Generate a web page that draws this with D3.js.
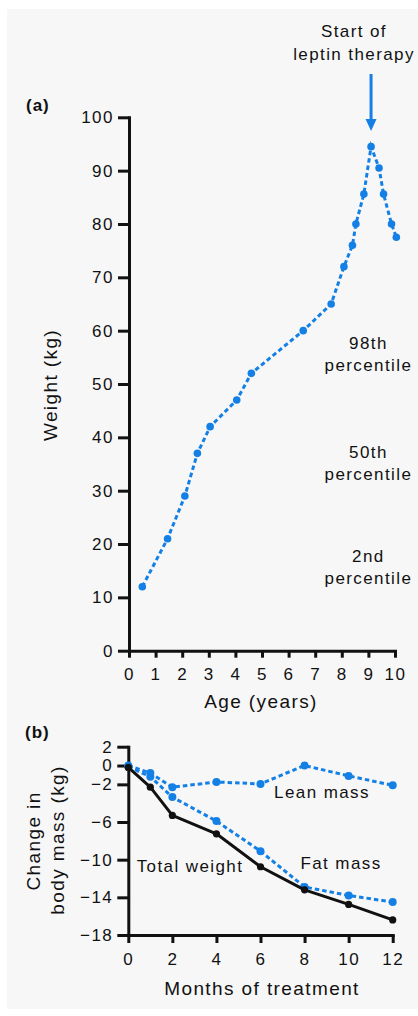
<!DOCTYPE html>
<html>
<head>
<meta charset="utf-8">
<script src="https://cdn.jsdelivr.net/npm/d3@7/dist/d3.min.js"></script>
<style>
  html, body { margin: 0; padding: 0; background: #ffffff; }
  svg { display: block; }
  text { font-family: "Liberation Sans", Arial, Helvetica, sans-serif; fill: #111111; }
</style>
</head>
<body>
<svg id="chart" width="418" height="1016"></svg>
<script>
// ---------- Data: panel (a) ----------
const ages    = [0.5, 1.45, 2.1, 2.57, 3.05, 4.05, 4.6, 6.55, 7.6, 8.08, 8.4, 8.53, 8.83, 9.1, 9.4, 9.57, 9.87, 10.05];
const weights = [12, 21, 29, 37, 42, 47, 52, 60, 65, 72, 76, 80, 85.6, 94.5, 90.5, 85.6, 80, 77.5];
const ageTicks = [0, 1, 2, 3, 4, 5, 6, 7, 8, 9, 10];
const weightTicks = [0, 10, 20, 30, 40, 50, 60, 70, 80, 90, 100];
const therapyStartAge = 9.1;
const percentileLabels = [
  { lines: ["98th", "percentile"], value: 56.6 },
  { lines: ["50th", "percentile"], value: 36.2 },
  { lines: ["2nd", "percentile"], value: 16.7 }
];

// ---------- Data: panel (b) ----------
const months = [0, 1, 2, 4, 6, 8, 10, 12];
const totalWeight = [-0.2, -2.3, -5.3, -7.25, -10.75, -13.2, -14.75, -16.4];
const fatMass     = [-0.1, -1.2, -3.35, -5.9, -9.1, -12.9, -13.8, -14.5];
const leanMass    = [0, -0.8, -2.3, -1.75, -1.95, 0, -1.1, -2.1];
const monthTicks = [0, 2, 4, 6, 8, 10, 12];
const changeTicks = [2, 0, -2, -6, -10, -14, -18];

// ---------- Styles ----------
const BLUE = "#1480e6";
const INK = "#111111";
const LS = "1.4px";

const svg = d3.select("#chart");
svg.append("rect").attr("x", 7).attr("y", 9).attr("width", 411).attr("height", 1000).attr("fill", "#f7f7f7");

function styleAxis(g) {
  g.selectAll("path.domain").attr("stroke", INK).attr("stroke-width", 3).attr("stroke-linecap", "square");
  g.selectAll(".tick line").attr("stroke", INK).attr("stroke-width", 3);
  g.selectAll(".tick text").attr("fill", INK).style("font-size", "17px")
    .style("font-family", '"Liberation Sans", Arial, sans-serif').style("letter-spacing", "1.5px");
}
const fmt = d => (d < 0 ? "\u2212" + Math.abs(d) : String(d));

function addText(x, y, str, opts = {}) {
  const t = svg.append("text").attr("x", x).attr("y", y).text(str)
    .attr("text-anchor", opts.anchor || "middle")
    .style("font-size", (opts.size || 17) + "px")
    .style("letter-spacing", opts.ls || LS);
  if (opts.weight) t.style("font-weight", opts.weight);
  if (opts.rotate) t.attr("transform", `rotate(-90, ${x}, ${y})`);
  if (opts.fill) t.attr("fill", opts.fill);
  return t;
}

// ---------- Panel (a) ----------
const xA = d3.scaleLinear().domain([0, 10]).range([129, 395]);
const yA = d3.scaleLinear().domain([0, 100]).range([650.7, 117.3]);

const axAy = svg.append("g").attr("transform", `translate(${xA(0)},0)`)
  .call(d3.axisLeft(yA).tickValues(weightTicks).tickSize(11).tickSizeOuter(0).tickPadding(4).tickFormat(fmt));
styleAxis(axAy);
const axAx = svg.append("g").attr("transform", `translate(0,${yA(0)})`)
  .call(d3.axisBottom(xA).tickValues(ageTicks).tickSize(7).tickSizeOuter(0).tickPadding(10).tickFormat(fmt));
styleAxis(axAx);

const ptsA = ages.map((a, i) => [a, weights[i]]);
const lineA = d3.line().x(d => xA(d[0])).y(d => yA(d[1]));
svg.append("path").datum(ptsA).attr("d", lineA).attr("fill", "none")
  .attr("stroke", BLUE).attr("stroke-width", 3).attr("stroke-dasharray", "4.5,3");
svg.append("g").selectAll("circle").data(ptsA).join("circle")
  .attr("cx", d => xA(d[0])).attr("cy", d => yA(d[1])).attr("r", 3.8).attr("fill", BLUE);

// arrow: start of leptin therapy
const ax = xA(therapyStartAge);
svg.append("line").attr("x1", ax).attr("x2", ax).attr("y1", 74).attr("y2", 122)
  .attr("stroke", BLUE).attr("stroke-width", 3);
svg.append("path").attr("d", `M${ax - 5.5},119 L${ax + 5.5},119 L${ax},131 Z`).attr("fill", BLUE);

addText(354, 37, "Start of");
addText(354, 60, "leptin therapy");
addText(26, 111, "(a)", { anchor: "start", size: 17, weight: "bold", ls: "1px" });
addText(57, 385, "Weight (kg)", { size: 19, rotate: true });
addText(261, 708, "Age (years)", { size: 19 });

percentileLabels.forEach(p => {
  const by = yA(p.value);
  addText(xA(9), by, p.lines[0]);
  addText(xA(9), by + 22.5, p.lines[1]);
});

// ---------- Panel (b) ----------
const xB = d3.scaleLinear().domain([0, 12]).range([128.3, 392.7]);
const yB = d3.scaleLinear().domain([-18, 2]).range([935, 746.7]);

const axBy = svg.append("g").attr("transform", `translate(${xB(0)},0)`)
  .call(d3.axisLeft(yB).tickValues(changeTicks).tickSize(11).tickSizeOuter(0).tickPadding(4).tickFormat(fmt));
styleAxis(axBy);
const axBx = svg.append("g").attr("transform", `translate(0,${yB(-18)})`)
  .call(d3.axisBottom(xB).tickValues(monthTicks).tickSize(8).tickSizeOuter(0).tickPadding(10).tickFormat(fmt));
styleAxis(axBx);

const lineB = d3.line().x(d => xB(d[0])).y(d => yB(d[1]));
const series = [
  { vals: leanMass, color: BLUE, dash: "4.5,3", r: 4 },
  { vals: fatMass, color: BLUE, dash: "4.5,3", r: 4 },
  { vals: totalWeight, color: INK, dash: null, r: 3.6 }
];
series.forEach(s => {
  const pts = months.map((m, i) => [m, s.vals[i]]);
  const p = svg.append("path").datum(pts).attr("d", lineB).attr("fill", "none")
    .attr("stroke", s.color).attr("stroke-width", 3).attr("stroke-linejoin", "round");
  if (s.dash) p.attr("stroke-dasharray", s.dash);
  svg.append("g").selectAll("circle").data(pts).join("circle")
    .attr("cx", d => xB(d[0])).attr("cy", d => yB(d[1])).attr("r", s.r).attr("fill", s.color);
});

addText(25, 738, "(b)", { anchor: "start", size: 17, weight: "bold", ls: "1px" });
addText(40, 841, "Change in", { size: 19, rotate: true });
addText(64, 840, "body mass (kg)", { size: 19, rotate: true });
addText(322, 798, "Lean mass");
addText(341, 869, "Fat mass");
addText(190, 872, "Total weight");
addText(262, 995, "Months of treatment", { size: 19 });
</script>
</body>
</html>
